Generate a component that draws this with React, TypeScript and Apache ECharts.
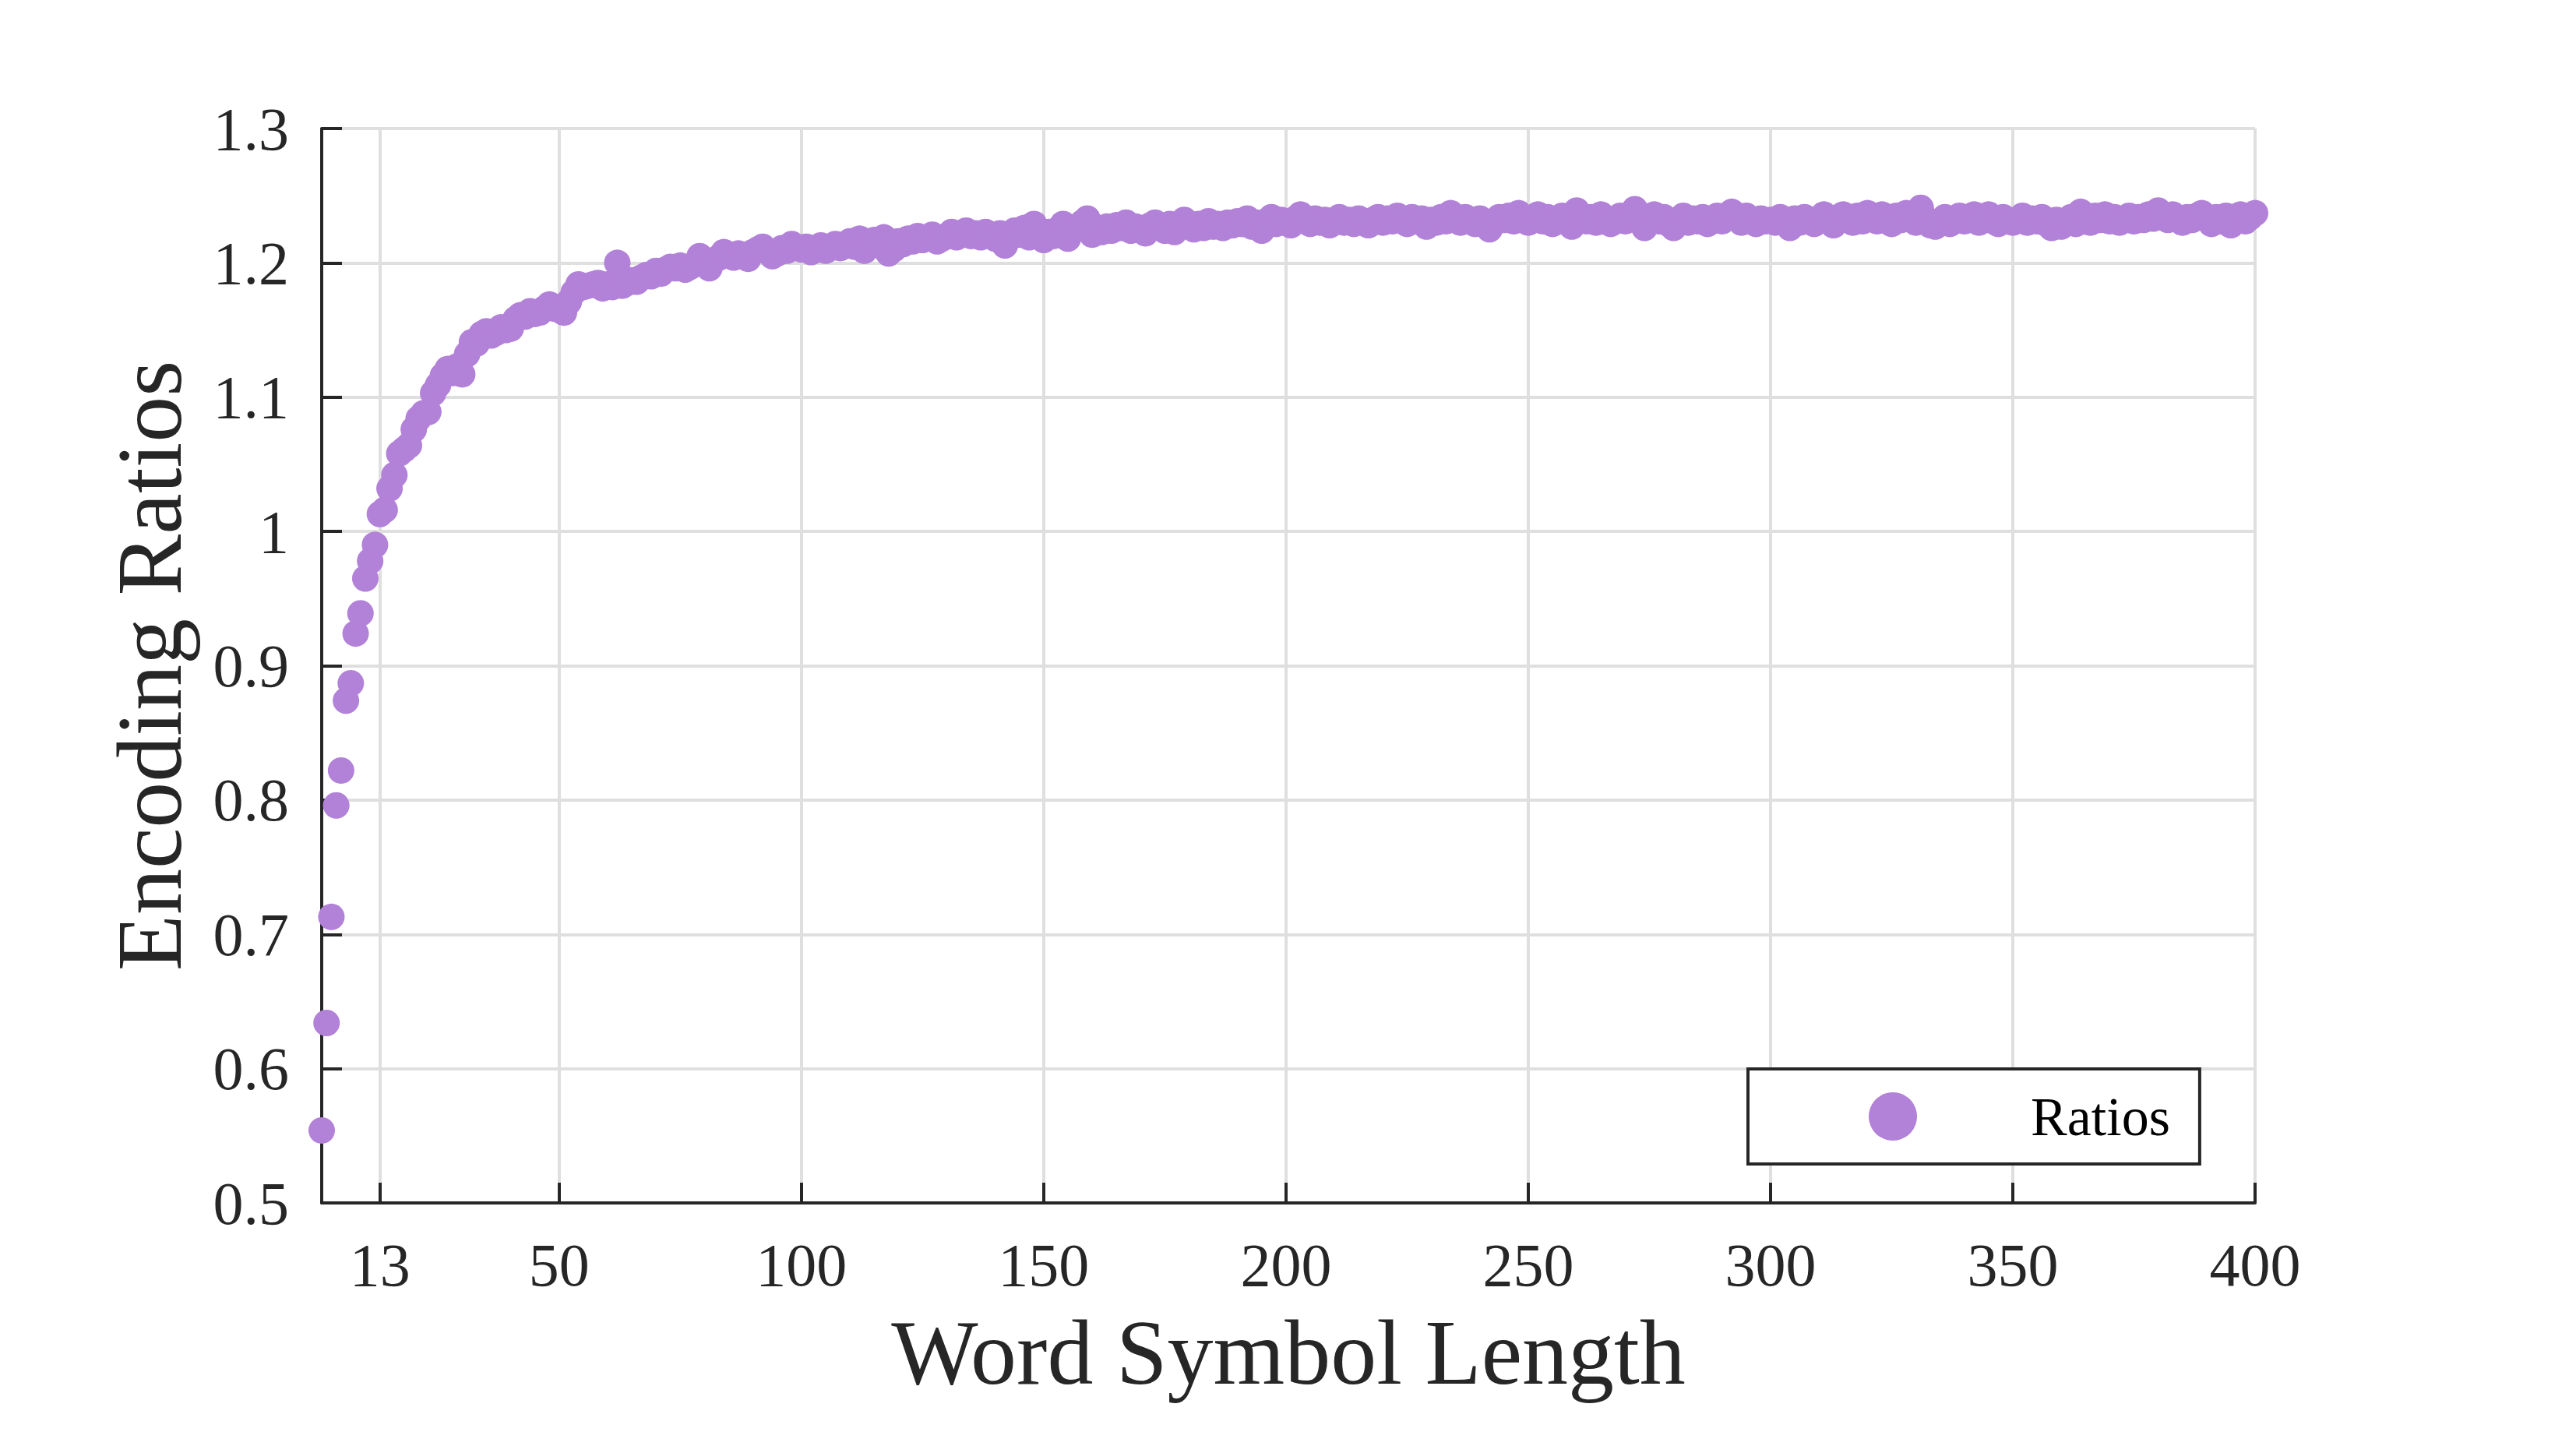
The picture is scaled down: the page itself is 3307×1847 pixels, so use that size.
import React, { useEffect, useRef } from "react";
import * as echarts from "echarts";

// Word symbol length runs 1..400 (one point per integer length)
const xTickValues = [13, 50, 100, 150, 200, 250, 300, 350, 400];

const ratios001to050 = [
  0.554, 0.634, 0.713, 0.796, 0.822, 0.874, 0.887, 0.924, 0.939, 0.965,
  0.978, 0.990, 1.013, 1.016, 1.032, 1.042, 1.058, 1.061, 1.064, 1.076,
  1.084, 1.088, 1.089, 1.103, 1.109, 1.116, 1.121, 1.118, 1.123, 1.117,
  1.132, 1.141, 1.140, 1.147, 1.149, 1.146, 1.148, 1.152, 1.150, 1.151,
  1.158, 1.161, 1.160, 1.164, 1.162, 1.163, 1.166, 1.169, 1.166, 1.165,
];
const ratios051to100 = [
  1.163, 1.171, 1.178, 1.184, 1.182, 1.183, 1.184, 1.185, 1.181, 1.184,
  1.182, 1.200, 1.183, 1.185, 1.187, 1.186, 1.189, 1.191, 1.190, 1.194,
  1.192, 1.195, 1.197, 1.196, 1.198, 1.195, 1.197, 1.199, 1.205, 1.201,
  1.196, 1.202, 1.204, 1.208, 1.206, 1.204, 1.207, 1.205, 1.203, 1.208,
  1.210, 1.212, 1.209, 1.205, 1.207, 1.211, 1.209, 1.214, 1.212, 1.210,
];
const ratios101to150 = [
  1.212, 1.208, 1.211, 1.213, 1.209, 1.212, 1.214, 1.211, 1.213, 1.216,
  1.212, 1.218, 1.209, 1.215, 1.217, 1.213, 1.219, 1.207, 1.210, 1.216,
  1.214, 1.218, 1.216, 1.220, 1.217, 1.219, 1.221, 1.216, 1.218, 1.220,
  1.223, 1.219, 1.221, 1.224, 1.220, 1.222, 1.219, 1.223, 1.221, 1.218,
  1.222, 1.213, 1.220, 1.224, 1.221, 1.226, 1.219, 1.229, 1.222, 1.217,
];
const ratios151to200 = [
  1.223, 1.220, 1.225, 1.229, 1.218, 1.224, 1.226, 1.230, 1.233, 1.221,
  1.225, 1.223, 1.227, 1.224, 1.228, 1.226, 1.230, 1.224, 1.227, 1.225,
  1.222, 1.228, 1.230, 1.226, 1.224, 1.229, 1.223, 1.227, 1.232, 1.228,
  1.225, 1.229, 1.226, 1.231, 1.227, 1.229, 1.226, 1.230, 1.228, 1.231,
  1.229, 1.233, 1.227, 1.230, 1.224, 1.231, 1.234, 1.229, 1.232, 1.230,
];
const ratios201to250 = [
  1.228, 1.233, 1.236, 1.231, 1.229, 1.233, 1.230, 1.232, 1.228, 1.231,
  1.234, 1.230, 1.232, 1.229, 1.233, 1.231, 1.228, 1.232, 1.234, 1.230,
  1.233, 1.231, 1.235, 1.232, 1.229, 1.234, 1.231, 1.233, 1.227, 1.232,
  1.230, 1.234, 1.231, 1.237, 1.233, 1.230, 1.234, 1.232, 1.229, 1.233,
  1.231, 1.225, 1.230, 1.234, 1.232, 1.235, 1.231, 1.237, 1.233, 1.230,
];
const ratios251to300 = [
  1.233, 1.236, 1.231, 1.234, 1.229, 1.232, 1.235, 1.230, 1.227, 1.239,
  1.233, 1.231, 1.234, 1.230, 1.236, 1.232, 1.229, 1.233, 1.235, 1.231,
  1.234, 1.240, 1.232, 1.226, 1.233, 1.236, 1.231, 1.234, 1.229, 1.226,
  1.232, 1.235, 1.230, 1.233, 1.231, 1.234, 1.229, 1.232, 1.235, 1.231,
  1.234, 1.238, 1.233, 1.230, 1.235, 1.232, 1.229, 1.233, 1.231, 1.232,
];
const ratios301to350 = [
  1.230, 1.234, 1.231, 1.226, 1.233, 1.230, 1.234, 1.232, 1.229, 1.233,
  1.236, 1.231, 1.228, 1.234, 1.236, 1.232, 1.230, 1.235, 1.231, 1.237,
  1.234, 1.231, 1.236, 1.233, 1.229, 1.235, 1.232, 1.237, 1.234, 1.230,
  1.241, 1.233, 1.228, 1.227, 1.231, 1.234, 1.229, 1.232, 1.235, 1.231,
  1.233, 1.236, 1.230, 1.233, 1.236, 1.231, 1.229, 1.234, 1.232, 1.230,
];
const ratios351to400 = [
  1.232, 1.235, 1.230, 1.233, 1.231, 1.234, 1.229, 1.226, 1.232, 1.227,
  1.231, 1.234, 1.229, 1.238, 1.233, 1.230, 1.235, 1.232, 1.236, 1.231,
  1.234, 1.230, 1.233, 1.235, 1.231, 1.234, 1.232, 1.236, 1.233, 1.239,
  1.235, 1.232, 1.236, 1.233, 1.230, 1.234, 1.232, 1.235, 1.237, 1.233,
  1.229, 1.234, 1.231, 1.235, 1.228, 1.233, 1.236, 1.231, 1.234, 1.237,
];

const ratios = [
  ...ratios001to050,
  ...ratios051to100,
  ...ratios101to150,
  ...ratios151to200,
  ...ratios201to250,
  ...ratios251to300,
  ...ratios301to350,
  ...ratios351to400,
];

const seriesName = "Ratios";
const xName = "Word Symbol Length";
const yName = "Encoding Ratios";

const FONT = "'Liberation Serif', 'Times New Roman', serif";
const INK = "#262626";
const GRID = "#dfdfdf";
const DOT = "#b281d8";

export default function App() {
  const ref = useRef<HTMLDivElement>(null);

  useEffect(() => {
    if (!ref.current) return;
    const chart = echarts.init(ref.current, undefined, { renderer: "svg" });
    const data = ratios.map((v, i) => [i + 1, v]);
    chart.setOption({
      animation: false,
      backgroundColor: "#ffffff",
      textStyle: { fontFamily: FONT },
      grid: { left: 413, top: 165, right: 412, bottom: 303, containLabel: false },
      legend: {
        show: true,
        data: [seriesName],
        left: 2244,
        top: 1372,
        orient: "horizontal",
        icon: "circle",
        itemWidth: 344,
        itemHeight: 62,
        padding: [26, 38, 26, 155],
        borderColor: INK,
        borderWidth: 4,
        borderRadius: 0,
        backgroundColor: "#ffffff",
        selectedMode: false,
        textStyle: { fontSize: 70, fontFamily: FONT, color: "#000000" },
      },
      xAxis: {
        type: "value",
        min: 1,
        max: 400,
        name: xName,
        nameLocation: "middle",
        nameGap: 133,
        nameTextStyle: { fontSize: 118, fontFamily: FONT, color: INK },
        axisLine: { show: true, onZero: false, lineStyle: { color: INK, width: 4 } },
        axisTick: {
          show: true,
          inside: true,
          length: 26,
          customValues: xTickValues,
          lineStyle: { color: INK, width: 4 },
        },
        axisLabel: {
          show: true,
          customValues: xTickValues,
          margin: 40,
          fontSize: 78,
          fontFamily: FONT,
          color: INK,
        },
        splitLine: { show: true, lineStyle: { color: GRID, width: 4 } },
      },
      yAxis: {
        type: "value",
        min: 0.5,
        max: 1.3,
        interval: 0.1,
        name: yName,
        nameLocation: "middle",
        nameGap: 162,
        nameRotate: 90,
        nameTextStyle: { fontSize: 118, fontFamily: FONT, color: INK },
        axisLine: { show: true, onZero: false, lineStyle: { color: INK, width: 4 } },
        axisTick: { show: true, inside: true, length: 26, lineStyle: { color: INK, width: 4 } },
        axisLabel: {
          show: true,
          margin: 42,
          fontSize: 78,
          fontFamily: FONT,
          color: INK,
        },
        splitLine: { show: true, lineStyle: { color: GRID, width: 4 } },
      },
      series: [
        {
          name: seriesName,
          type: "scatter",
          data,
          symbol: "circle",
          symbolSize: 34,
          itemStyle: { color: DOT, opacity: 1 },
          emphasis: { disabled: true },
        },
      ],
    });
    return () => chart.dispose();
  }, []);

  return (
    <div
      ref={ref}
      style={{
        position: "fixed",
        left: 0,
        top: 0,
        width: 3307,
        height: 1847,
        background: "#ffffff",
      }}
    />
  );
}
